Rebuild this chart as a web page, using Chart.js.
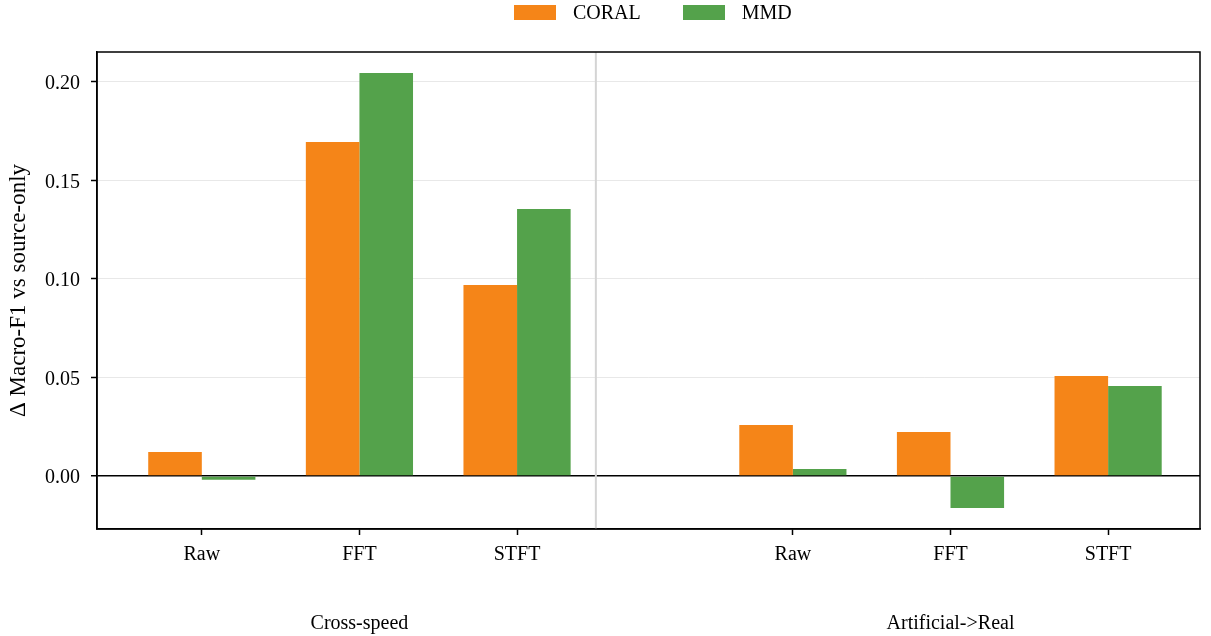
<!DOCTYPE html>
<html lang="en">

<head>
   <meta charset="UTF-8">
   <title>Delta Macro-F1</title>
   <style>
      body {
         margin: 0;
         background: #fff;
         font-family: 'Liberation Serif', serif;
      }

      .wrap {
         position: relative;
         width: 1211px;
         height: 636px;
      }

      /* legend kept as plain html above the canvas */
      .legend {
         position: absolute;
         left: 514px;
         top: 0;
         display: flex;
         align-items: center;
         height: 24px;
         font-size: 20px;
         color: #000;
      }

      .legend .box {
         width: 42px;
         height: 15px;
         margin-right: 17px;
      }

      .legend .item {
         display: flex;
         align-items: center;
         margin-right: 42px;
      }
   </style>
</head>

<body>
   <div class="wrap">
      <div class="legend" id="legend"></div>
      <canvas id="deltaChart" width="1211" height="636"></canvas>
   </div>

   <script src="https://cdn.jsdelivr.net/npm/chart.js"></script>
   <script>
      // dados
      var groups = ["Cross-speed", "Artificial->Real"];
      var reps = ["Raw", "FFT", "STFT"];
      var coral = [0.0122, 0.1695, 0.0970, 0.0259, 0.0223, 0.0508];
      var mmd = [-0.0019, 0.2046, 0.1355, 0.0036, -0.0162, 0.0457];
      var yTicks = [0.00, 0.05, 0.10, 0.15, 0.20];

      var groupGap = 0.75; // espaco extra entre os dois grupos
      var colors = { CORAL: "#F58518", MMD: "#54A24B" };

      // posicao de cada categoria no eixo x
      var xPos = [];
      var xLabels = [];
      groups.forEach(function (g, gi) {
         reps.forEach(function (r, ri) {
            xPos.push(gi * (reps.length + groupGap) + ri);
            xLabels.push(r);
         });
      });
      var groupCenters = groups.map(function (g, gi) {
         return gi * (reps.length + groupGap) + (reps.length - 1) / 2;
      });
      var separatorAt = reps.length - 0.5;

      function pontos(vals) {
         return vals.map(function (v, i) { return { x: xPos[i], y: v }; });
      }

      // legenda html
      var legend = document.getElementById("legend");
      Object.keys(colors).forEach(function (k) {
         var it = document.createElement("div");
         it.className = "item";
         it.innerHTML = '<div class="box" style="background:' + colors[k] + '"></div><span>' + k + '</span>';
         legend.appendChild(it);
      });

      var fonte = { family: "'Liberation Serif', serif", size: 20 };

      var extras = {
         id: "extras",
         beforeDatasetsDraw: function (chart) {
            var ctx = chart.ctx, a = chart.chartArea;
            var sx = chart.scales.x.getPixelForValue(separatorAt);
            ctx.save();
            ctx.strokeStyle = "#d4d4d4";
            ctx.lineWidth = 2;
            ctx.beginPath();
            ctx.moveTo(sx, a.top);
            ctx.lineTo(sx, a.bottom);
            ctx.stroke();
            ctx.restore();
         },
         afterDraw: function (chart) {
            var ctx = chart.ctx, a = chart.chartArea;
            ctx.save();
            ctx.strokeStyle = "#000";
            ctx.lineWidth = 1.5;
            ctx.strokeRect(a.left, a.top, a.right - a.left, a.bottom - a.top);
            ctx.fillStyle = "#000";
            ctx.font = "20px 'Liberation Serif', serif";
            ctx.textAlign = "center";
            ctx.textBaseline = "alphabetic";
            groups.forEach(function (g, i) {
               ctx.fillText(g, chart.scales.x.getPixelForValue(groupCenters[i]), 629);
            });
            ctx.restore();
         }
      };

      new Chart(document.getElementById("deltaChart"), {
         type: "bar",
         data: {
            datasets: [
               { label: "CORAL", data: pontos(coral), backgroundColor: colors.CORAL, borderWidth: 0 },
               { label: "MMD", data: pontos(mmd), backgroundColor: colors.MMD, borderWidth: 0 }
            ]
         },
         options: {
            responsive: false,
            animation: false,
            categoryPercentage: 0.68,
            barPercentage: 1.0,
            layout: { padding: { top: 52, right: 11, left: 0, bottom: 0 } },
            plugins: {
               legend: { display: false },
               tooltip: { enabled: false }
            },
            scales: {
               x: {
                  type: "linear",
                  min: -0.665,
                  max: 6.333,
                  offset: false,
                  afterBuildTicks: function (s) {
                     s.ticks = xPos.map(function (v) { return { value: v }; });
                  },
                  afterFit: function (s) { s.height = 107; },
                  ticks: {
                     color: "#000",
                     font: fonte,
                     padding: 8,
                     maxRotation: 0,
                     autoSkip: false,
                     callback: function (v) {
                        var i = xPos.indexOf(v);
                        return i >= 0 ? xLabels[i] : "";
                     }
                  },
                  grid: {
                     drawOnChartArea: false,
                     offset: false,
                     tickLength: 6,
                     tickColor: "#000",
                     tickWidth: 1.5
                  },
                  border: { color: "#000", width: 1.5 }
               },
               y: {
                  min: -0.0269,
                  max: 0.2152,
                  z: 1,
                  afterBuildTicks: function (s) {
                     s.ticks = yTicks.map(function (v) { return { value: v }; });
                  },
                  afterFit: function (s) { s.width = 97; },
                  ticks: {
                     color: "#000",
                     font: fonte,
                     padding: 11,
                     labelOffset: 2,
                     callback: function (v) { return v.toFixed(2); }
                  },
                  grid: {
                     color: function (c) { return c.tick && c.tick.value === 0 ? "#000" : "rgba(0,0,0,0.09)"; },
                     lineWidth: function (c) { return c.tick && c.tick.value === 0 ? 1.5 : 1; },
                     tickLength: 6,
                     tickColor: "#000",
                     tickWidth: 1.5
                  },
                  border: { color: "#000", width: 1.5 },
                  title: {
                     display: true,
                     text: "Δ Macro-F1 vs source-only",
                     color: "#000",
                     font: { family: "'Liberation Serif', serif", size: 23 },
                     padding: { top: 5, bottom: 4 }
                  }
               }
            }
         },
         plugins: [extras]
      });
   </script>
</body>

</html>
